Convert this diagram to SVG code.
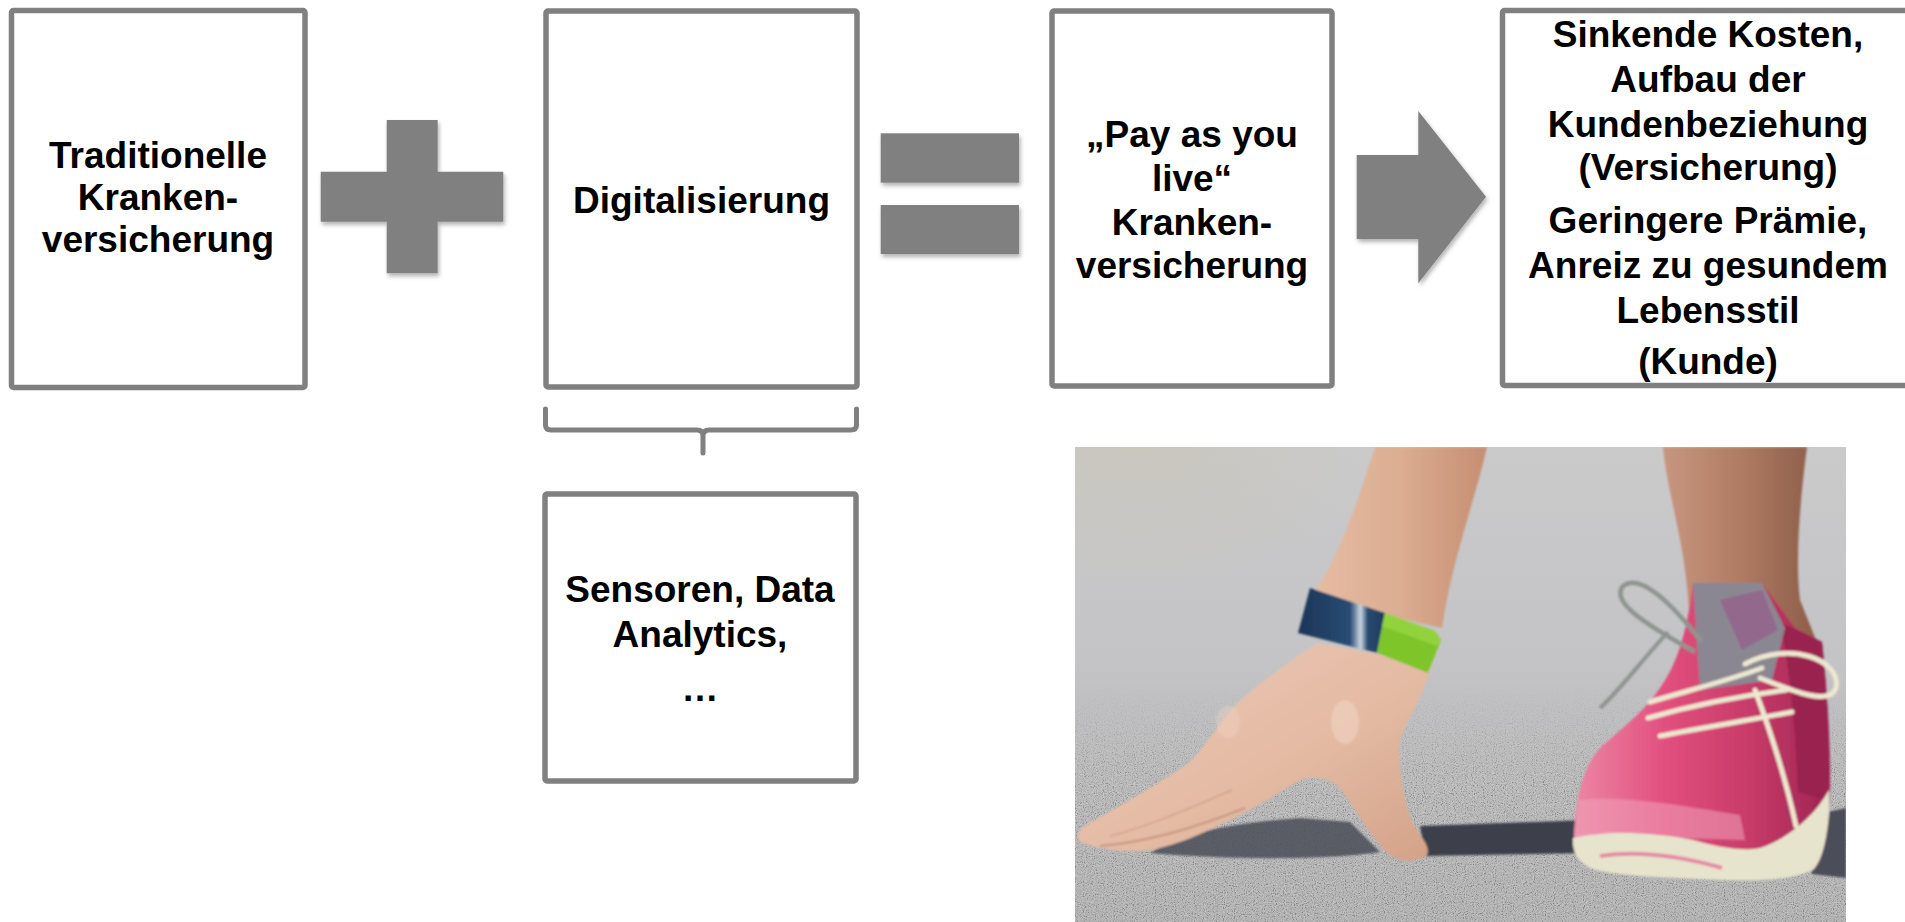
<svg xmlns="http://www.w3.org/2000/svg" width="1905" height="922" viewBox="0 0 1905 922">
<style>
.box{fill:#fff;stroke:#808080;stroke-width:5.5;}
.lbl{font-family:"Liberation Sans",Arial,sans-serif;font-weight:bold;font-size:37px;fill:#000;text-anchor:middle;}
.op{fill:#808080;filter:url(#sh);}
.brace{fill:none;stroke:#808080;stroke-width:5;stroke-linecap:round;stroke-linejoin:round;}
.lace{fill:none;stroke:#ece8d0;stroke-width:5;stroke-linecap:round;}
</style>
<defs>
<filter id="sh" x="-10%" y="-10%" width="130%" height="130%">
<feDropShadow dx="1.5" dy="3" stdDeviation="2" flood-color="#000" flood-opacity="0.3"/>
</filter>
<filter id="soft" x="-5%" y="-5%" width="110%" height="110%"><feGaussianBlur stdDeviation="1.3"/></filter>
<filter id="noise" x="0" y="0" width="100%" height="100%" filterUnits="objectBoundingBox">
<feTurbulence type="fractalNoise" baseFrequency="0.9" numOctaves="2" seed="7"/>
<feColorMatrix type="saturate" values="0"/>
<feComponentTransfer>
<feFuncR type="linear" slope="3" intercept="-1"/>
<feFuncG type="linear" slope="3" intercept="-1"/>
<feFuncB type="linear" slope="3" intercept="-1"/>
<feFuncA type="table" tableValues="1 1"/>
</feComponentTransfer>
</filter>
<clipPath id="photoClip"><rect x="1075" y="447" width="771" height="475"/></clipPath>
<linearGradient id="ground" x1="0" y1="0" x2="0" y2="1">
<stop offset="0" stop-color="#cacacb"/>
<stop offset="0.45" stop-color="#c4c4c6"/>
<stop offset="0.7" stop-color="#b8b8b9"/>
<stop offset="1" stop-color="#b0b0b0"/>
</linearGradient>
<radialGradient id="warm" cx="0.08" cy="0" r="0.3">
<stop offset="0" stop-color="#c8c4b4" stop-opacity="0.6"/>
<stop offset="1" stop-color="#c8c4b4" stop-opacity="0"/>
</radialGradient>
<linearGradient id="noiseFade" x1="0" y1="0" x2="0" y2="1">
<stop offset="0.5" stop-color="#fff" stop-opacity="0"/>
<stop offset="0.72" stop-color="#fff" stop-opacity="1"/>
</linearGradient>
<mask id="noiseMask" maskUnits="userSpaceOnUse" x="1075" y="447" width="771" height="475"><rect x="1075" y="447" width="771" height="475" fill="url(#noiseFade)"/></mask>
<linearGradient id="arm" x1="0" y1="0" x2="1" y2="0">
<stop offset="0" stop-color="#e6bca4"/>
<stop offset="0.5" stop-color="#dcae92"/>
<stop offset="1" stop-color="#c58e72"/>
</linearGradient>
<linearGradient id="hand" x1="0" y1="0" x2="1" y2="1">
<stop offset="0" stop-color="#edcbb8"/>
<stop offset="0.6" stop-color="#e3b9a2"/>
<stop offset="1" stop-color="#d3a288"/>
</linearGradient>
<linearGradient id="leg" x1="0" y1="0" x2="1" y2="0">
<stop offset="0" stop-color="#c89680"/>
<stop offset="0.5" stop-color="#b07c63"/>
<stop offset="1" stop-color="#8d5d49"/>
</linearGradient>
<linearGradient id="shoe" x1="0" y1="0" x2="1" y2="0">
<stop offset="0" stop-color="#ec86a5"/>
<stop offset="0.35" stop-color="#e2507f"/>
<stop offset="0.7" stop-color="#c63a68"/>
<stop offset="1" stop-color="#9e2452"/>
</linearGradient>
<linearGradient id="band" x1="0" y1="0" x2="1" y2="0">
<stop offset="0" stop-color="#1b3556"/>
<stop offset="0.6" stop-color="#2a4c74"/>
<stop offset="0.72" stop-color="#c9d6e2"/>
<stop offset="0.8" stop-color="#2a4a70"/>
<stop offset="1" stop-color="#1d3a5c"/>
</linearGradient>
</defs>

<rect width="1905" height="922" fill="#fff"/>

<g id="node-traditionelle">
<rect class="box" x="11.5" y="10.5" width="293.5" height="377" rx="2"/>
<text class="lbl" x="158" y="168">Traditionelle</text>
<text class="lbl" x="158" y="210">Kranken-</text>
<text class="lbl" x="158" y="252">versicherung</text>
</g>

<g id="node-digitalisierung">
<rect class="box" x="546" y="11" width="311" height="376" rx="2"/>
<text class="lbl" x="701.5" y="213">Digitalisierung</text>
</g>

<g id="node-sensoren">
<rect class="box" x="545" y="494" width="311" height="287" rx="2"/>
<text class="lbl" x="700" y="602">Sensoren, Data</text>
<text class="lbl" x="700" y="647">Analytics,</text>
<text class="lbl" x="700" y="701">…</text>
</g>

<g id="node-payasyoulive">
<rect class="box" x="1052" y="11" width="280" height="375" rx="2"/>
<text class="lbl" x="1192" y="147">„Pay as you</text>
<text class="lbl" x="1192" y="191">live“</text>
<text class="lbl" x="1192" y="235">Kranken-</text>
<text class="lbl" x="1192" y="278">versicherung</text>
</g>

<g id="node-ergebnis">
<rect class="box" x="1502.5" y="10.5" width="420" height="375" rx="2"/>
<text class="lbl" x="1708" y="47">Sinkende Kosten,</text>
<text class="lbl" x="1708" y="92">Aufbau der</text>
<text class="lbl" x="1708" y="137">Kundenbeziehung</text>
<text class="lbl" x="1708" y="180">(Versicherung)</text>
<text class="lbl" x="1708" y="233">Geringere Prämie,</text>
<text class="lbl" x="1708" y="278">Anreiz zu gesundem</text>
<text class="lbl" x="1708" y="323">Lebensstil</text>
<text class="lbl" x="1708" y="374">(Kunde)</text>
</g>

<g id="connectors">
<g id="op-plus">
<path class="op" d="M386.7,120 H437.7 V171.7 H503.3 V221.7 H437.7 V273.3 H386.7 V221.7 H320.7 V171.7 H386.7 Z"/>
</g>
<g id="op-equals">
<rect class="op" x="880.7" y="133.3" width="138.3" height="49.4"/>
<rect class="op" x="880.7" y="205" width="138.3" height="49"/>
</g>
<g id="op-arrow">
<path class="op" d="M1356.7,155 H1418.3 V111 L1486,196.7 L1418.3,283.3 V239 H1356.7 Z"/>
</g>
<g id="brace">
<path class="brace" d="M545.5,409 V425 Q545.5,430 551,430 H697 Q703,430 703,436 V453 M703,436 Q703,430 709,430 H851 Q856.5,430 856.5,425 V409"/>
</g>
</g>

<g id="photo" clip-path="url(#photoClip)">
<rect x="1075" y="447" width="771" height="475" fill="url(#ground)"/>
<rect x="1075" y="447" width="771" height="475" fill="url(#warm)"/>
<g mask="url(#noiseMask)" opacity="0.22">
<rect x="1075" y="447" width="771" height="475" fill="#888" filter="url(#noise)"/>
</g>
<g filter="url(#soft)">
<path d="M1150,853 C1180,835 1220,824 1300,818 L1350,822 L1380,852 C1330,860 1230,860 1150,853 Z" fill="#4a4c57" opacity="0.85"/>
<path d="M1420,826 L1590,820 L1588,853 L1425,856 Z" fill="#3d404b"/>
<path d="M1800,818 L1846,808 L1846,878 L1812,874 Z" fill="#4b4e59"/>
<path d="M1375,447 L1487,447 C1475,500 1452,560 1442,628 L1310,598 C1338,560 1355,510 1375,447 Z" fill="url(#arm)"/>
<path d="M1317,643 L1432,664 C1426,690 1408,718 1400,740 C1397,770 1404,800 1412,822 C1420,836 1431,846 1427,855 C1416,863 1396,862 1386,852 C1370,835 1356,810 1341,790 C1331,778 1316,775 1300,780 C1280,792 1260,805 1240,815 C1214,828 1180,845 1150,850 C1125,853 1096,849 1081,842 C1074,836 1079,828 1095,820 C1130,800 1165,780 1190,762 C1210,741 1221,720 1240,700 C1265,680 1290,661 1317,643 Z" fill="url(#hand)"/>
<path d="M1245,808 C1200,826 1150,842 1100,846" fill="none" stroke="#c8977f" stroke-width="2"/>
<path d="M1232,790 C1190,808 1150,826 1110,836" fill="none" stroke="#d2a58e" stroke-width="1.5"/>
<ellipse cx="1345" cy="722" rx="14" ry="22" fill="#f0d3c3" opacity="0.6"/>
<ellipse cx="1228" cy="722" rx="12" ry="16" fill="#f0d3c3" opacity="0.4"/>
<path d="M1310,588 L1385,613 L1377,653 L1298,633 Z" fill="url(#band)"/>
<path d="M1385,613 L1435,631 L1441,640 L1428,673 L1377,653 Z" fill="#7ec52c"/>
<path d="M1385,613 L1435,631 L1441,640 L1437,646 L1382,626 Z" fill="#9bd846" opacity="0.7"/>
<path d="M1663,447 L1807,447 C1800,500 1795,560 1800,600 L1816,640 L1690,640 C1690,600 1685,560 1676,520 C1670,490 1665,470 1663,447 Z" fill="url(#leg)"/>
<path d="M1693,583 L1762,583 L1795,628 L1822,642 C1828,700 1832,760 1829,810 C1827,840 1822,860 1815,868 C1790,880 1760,882 1700,878 C1650,876 1610,874 1590,868 C1575,860 1572,845 1575,820 C1578,790 1585,765 1600,748 C1620,730 1640,715 1655,695 C1670,675 1685,650 1693,583 Z" fill="url(#shoe)"/>
<path d="M1780,622 L1822,642 C1828,700 1831,760 1827,800 L1798,792 C1796,740 1792,680 1780,622 Z" fill="#9a2350"/>
<path d="M1693,583 L1762,583 L1785,628 L1772,680 L1700,690 Z" fill="#8a8792"/>
<path d="M1720,600 L1762,590 L1778,630 L1742,650 Z" fill="#95608c" opacity="0.8"/>
<path d="M1578,800 C1620,795 1680,805 1740,815 L1745,840 C1690,838 1620,836 1575,840 Z" fill="#f0a2b9" opacity="0.55"/>
<path d="M1573,838 C1600,832 1640,830 1693,840 C1715,846 1740,852 1760,848 C1790,838 1815,815 1829,790 L1829,815 C1826,845 1821,862 1813,870 C1790,880 1760,882 1700,879 C1650,877 1610,875 1590,868 C1576,860 1572,850 1573,838 Z" fill="#e7e4cd"/>
<path d="M1600,856 C1640,850 1680,856 1722,868" fill="none" stroke="#e58aa4" stroke-width="4"/>
<path d="M1702,642 C1672,604 1640,572 1623,586 C1610,602 1645,624 1695,652" fill="none" stroke="#8e948f" stroke-width="4.5"/>
<path d="M1668,632 C1642,660 1620,690 1600,708" fill="none" stroke="#8e948f" stroke-width="4"/>
<path class="lace" d="M1650,702 C1690,690 1730,680 1762,668"/>
<path class="lace" d="M1648,718 C1690,706 1740,696 1786,690"/>
<path class="lace" d="M1660,736 C1700,728 1750,720 1792,712"/>
<path class="lace" d="M1745,664 C1790,640 1842,660 1836,688 C1830,706 1795,692 1760,678"/>
<path class="lace" d="M1755,690 C1770,730 1786,780 1796,826" stroke-width="4"/>
</g>
</g>
</svg>
